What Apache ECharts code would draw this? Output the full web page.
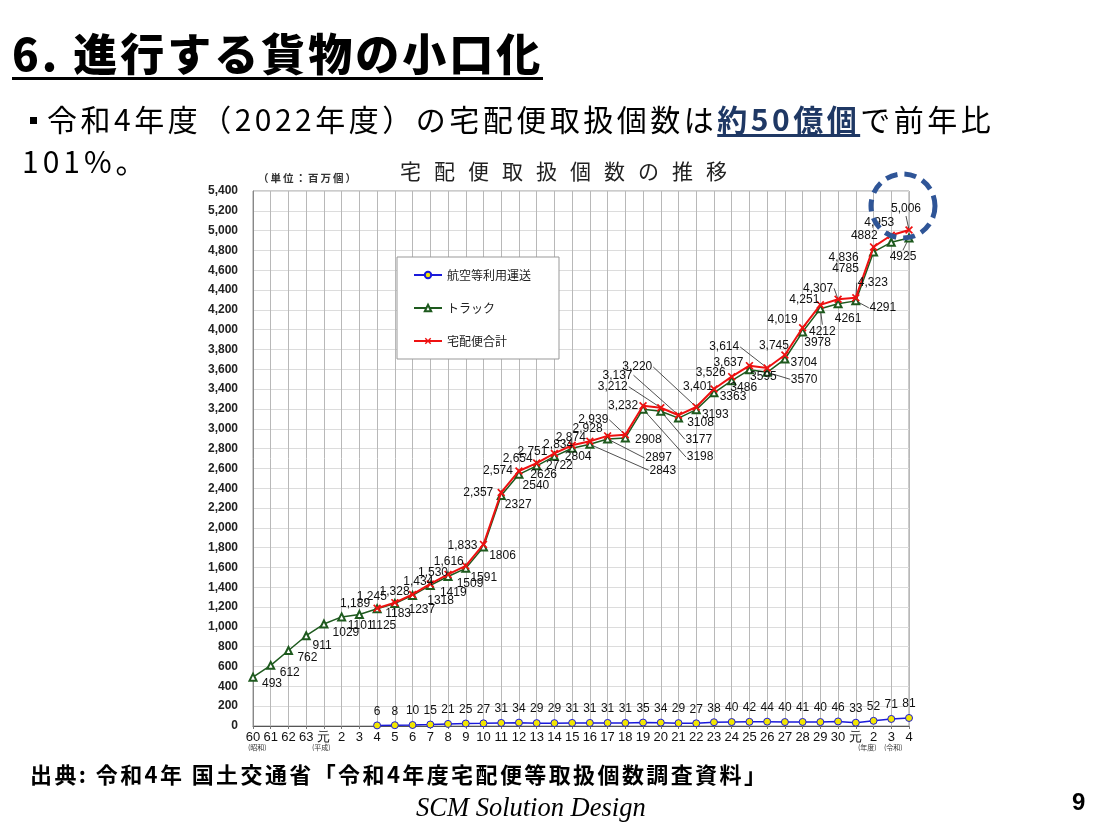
<!DOCTYPE html>
<html><head><meta charset="utf-8">
<script src="https://cdn.jsdelivr.net/npm/echarts@6/dist/echarts.min.js"></script>
<style>
body{margin:0;background:#fff;}
#wrap{position:relative;width:1100px;height:825px;overflow:hidden;background:#fff;font-family:"Noto Sans CJK JP",sans-serif;}
#chart{position:absolute;left:0;top:0;width:1100px;height:825px;}
.t{position:absolute;white-space:nowrap;color:#000;line-height:1;}
</style></head>
<body><div id="wrap"><div id="chart"></div>
<div class="t" style="left:12px;top:30px;font-size:44px;font-weight:900;letter-spacing:3px;padding-bottom:3px;border-bottom:3px solid #000;">6. 進行する貨物の小口化</div>
<div class="t" style="left:22px;top:103px;font-size:30px;letter-spacing:3.5px;"><span style="display:inline-block;width:7px;height:7px;background:#000;vertical-align:middle;margin:0 10px 4px 8px;"></span>令和4年度（2022年度）の宅配便取扱個数は<span style="color:#1f3864;font-weight:bold;text-decoration:underline;text-underline-offset:3px;">約50億個</span>で前年比</div>
<div class="t" style="left:22px;top:145px;font-size:30px;letter-spacing:4px;">101%。</div>
<div class="t" style="left:400px;top:160px;font-size:21px;letter-spacing:13px;color:#222;">宅配便取扱個数の推移</div>
<div class="t" style="left:258px;top:173px;font-size:10.5px;letter-spacing:2px;font-weight:bold;color:#333;">（単位：百万個）</div>
<div class="t" style="left:248px;top:744px;font-size:7px;color:#333;">(昭和)</div>
<div class="t" style="left:312px;top:744px;font-size:7px;color:#333;">(平成)</div>
<div class="t" style="left:858px;top:744px;font-size:7px;color:#333;">(年度)</div>
<div class="t" style="left:884px;top:744px;font-size:7px;color:#333;">(令和)</div>
<div class="t" style="left:30px;top:762px;font-size:22px;font-weight:bold;letter-spacing:2.4px;">出典: 令和4年 国土交通省「令和4年度宅配便等取扱個数調査資料」</div>
<div class="t" style="left:416px;top:794px;font-size:26.5px;font-style:italic;font-family:'Liberation Serif',serif;">SCM Solution Design</div>
<div class="t" style="left:1072px;top:790px;font-size:24px;font-weight:bold;font-family:'Liberation Sans',sans-serif;">9</div>
</div>
<script>
const categories = ['60','61','62','63','元','2','3','4','5','6','7','8','9','10','11','12','13','14','15','16','17','18','19','20','21','22','23','24','25','26','27','28','29','30','元','2','3','4'];
const yTicks = {min:0, max:5400, step:200};
const seriesNames = ['航空等利用運送','トラック','宅配便合計'];
const air = [null,null,null,null,null,null,null,6,8,10,15,21,25,27,31,34,29,29,31,31,31,31,35,34,29,27,38,40,42,44,40,41,40,46,33,52,71,81];
const truck = [493,612,762,911,1029,1101,1125,1183,1237,1318,1419,1509,1591,1806,2327,2540,2626,2722,2804,2843,2897,2908,3198,3177,3108,3193,3363,3486,3595,3570,3704,3978,4212,4261,4291,4785,4882,4925];
const total = [null,null,null,null,null,null,null,1189,1245,1328,1434,1530,1616,1833,2357,2574,2654,2751,2834,2874,2928,2939,3232,3212,3137,3220,3401,3526,3637,3614,3745,4019,4251,4307,4323,4836,4953,5006];

// label offsets (style only)
const truckOff = [[19,7],[19,7],[19,7],[16,10],[22,9],[19,9],[24,11],[21,5],[27,6],[28,5],[23,7],[22,7],[18,9],[19,9],[17,9],[17,11],[7,9],[5,9],[6,8],[73,26],[51,19],[23,2],[57,48],[38,28],[22,5],[19,5],[19,4],[12,7],[14,7],[37,7],[19,4],[15,11],[2,23],[10,15],[27,7],[-28,17],[-27,-7],[-6,19]];
const totalOff = {7:[-22,-5],8:[-23,-6],9:[-18,-3],10:[-12,-2],11:[-15,-2],12:[-17,-4],13:[-21,1],14:[-23,0],15:[-21,0],16:[-19,-4],17:[-22,-2],18:[-14,-1],19:[-19,-4],20:[-20,-7],21:[-32,-15],22:[-20,0],23:[-48,-21],24:[-61,-40],25:[-59,-40],26:[-16,-2],27:[-21,-4],28:[-21,-3],29:[-43,-21],30:[-11,-9],31:[-20,-8],32:[-16,-5],33:[-20,-11],34:[17,-15],35:[-30,11],36:[-12,-13],37:[-3,-21]};
const leaderTotal = [21,23,24,25,29,33,34,37];
const leaderTruck = [19,20,22,23,29,32,34,37];

const fmt = v => Number(v).toLocaleString('en-US');
const labelFont = {fontFamily:'Liberation Sans', fontSize:12, color:'#111'};

const truckData = truck.map((v,i)=>({value:v, label:{offset:truckOff[i]}}));
const totalData = total.map((v,i)=> v==null ? '-' : ({value:v, label:{offset:totalOff[i]}}));
const airData = air.map(v=> v==null ? '-' : v);

const leaders = [];
leaderTotal.forEach(i=>leaders.push([i,total[i],totalOff[i][0],totalOff[i][1],16]));
leaderTruck.forEach(i=>leaders.push([i,truck[i],truckOff[i][0],truckOff[i][1],14]));

const xMark = 'path://M0,1.5L1.5,0L5,3.5L8.5,0L10,1.5L6.5,5L10,8.5L8.5,10L5,6.5L1.5,10L0,8.5L3.5,5Z';

const chart = echarts.init(document.getElementById('chart'), null, {renderer:'canvas'});
chart.setOption({
  animation:false,
  backgroundColor:'transparent',
  grid:{left:253, right:191, top:191, bottom:99, show:true, borderColor:'#999', borderWidth:1, backgroundColor:'transparent'},
  legend:{
    orient:'vertical', left:397, top:257, data:seriesNames,
    backgroundColor:'#fff', borderColor:'#999', borderWidth:1,
    padding:[12,28,12,16], itemGap:21, itemWidth:28, itemHeight:8,
    textStyle:{fontSize:12, color:'#222', fontFamily:'Noto Sans CJK JP'}
  },
  xAxis:{
    type:'category', data:categories, boundaryGap:false,
    axisLine:{lineStyle:{color:'#555'}},
    axisTick:{show:true, length:3, lineStyle:{color:'#777'}},
    axisLabel:{interval:0, fontSize:13, color:'#111', fontFamily:'Liberation Sans', margin:5},
    splitLine:{show:true, lineStyle:{color:'#b8b8b8', width:1}}
  },
  yAxis:{
    type:'value', min:yTicks.min, max:yTicks.max, interval:yTicks.step,
    axisLine:{show:true, lineStyle:{color:'#888'}},
    axisTick:{show:false},
    axisLabel:{formatter:fmt, fontSize:12, fontWeight:'bold', color:'#222', fontFamily:'Liberation Sans', margin:15},
    splitLine:{show:true, lineStyle:{color:'#dcdcdc', width:1}}
  },
  series:[
    {name:seriesNames[0], type:'line', data:airData, symbol:'circle', symbolSize:7,
     lineStyle:{color:'#1a1adb', width:1.5}, itemStyle:{color:'#f2e600', borderColor:'#1a1adb', borderWidth:1},
     label:{show:true, position:'top', distance:4, ...labelFont}, z:3},
    {name:seriesNames[1], type:'line', data:truckData, symbol:'emptyTriangle', symbolSize:7,
     lineStyle:{color:'#1e5a1e', width:1.5}, itemStyle:{color:'#1e5a1e', borderWidth:1},
     label:{show:true, position:'inside', ...labelFont}, z:3},
    {name:seriesNames[2], type:'line', data:totalData, symbol:xMark, symbolSize:8,
     lineStyle:{color:'#ee1111', width:2}, itemStyle:{color:'#ee1111'},
     label:{show:true, position:'inside', formatter:p=>fmt(p.value), ...labelFont}, z:4},
    {type:'custom', coordinateSystem:'cartesian2d', data:leaders, encode:{x:0,y:1}, silent:true, z:2,
     renderItem:function(params, api){
       const p = api.coord([api.value(0), api.value(1)]);
       const dx=api.value(2), dy=api.value(3), hw=api.value(4);
       let ex, ey;
       if (Math.abs(dx) > hw) { ex = p[0]+dx-Math.sign(dx)*hw; ey = p[1]+dy; }
       else { ex = p[0]+dx; ey = p[1]+dy-Math.sign(dy)*7; }
       return {type:'line', shape:{x1:p[0],y1:p[1],x2:ex,y2:ey}, style:{stroke:'#222', lineWidth:0.8}};
     }}
  ]
});
const c = chart.convertToPixel({xAxisIndex:0, yAxisIndex:0}, [37, total[37]]);
chart.setOption({graphic:[{type:'circle', shape:{cx:c[0]-6, cy:c[1]-24, r:32}, z:10,
  style:{fill:'none', stroke:'#2f5597', lineWidth:5, lineDash:[12,7]}}]});
</script>
</body></html>
